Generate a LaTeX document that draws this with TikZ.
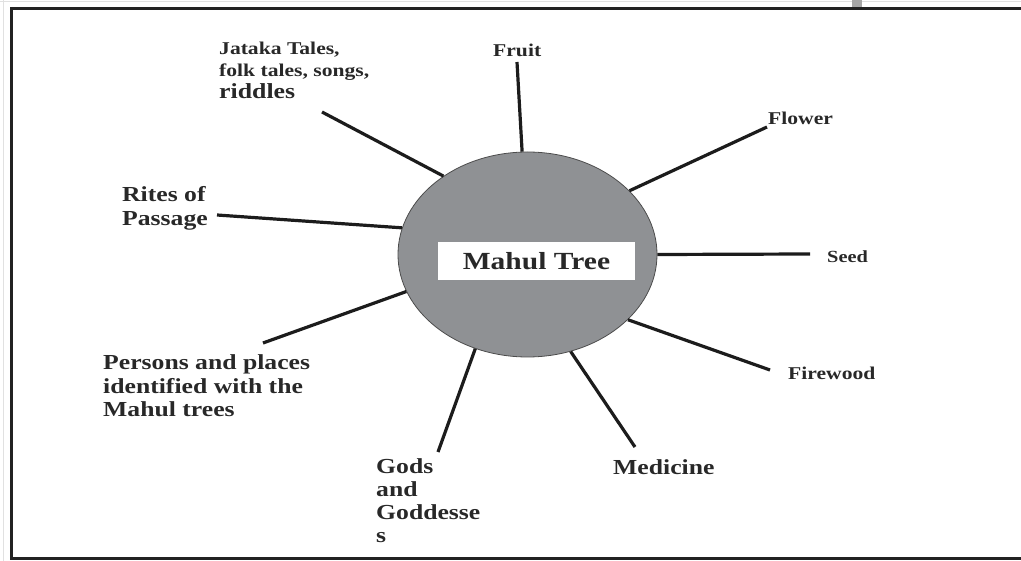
\documentclass[tikz,border=0pt]{standalone}
\usepackage{fontspec}
\newfontfamily\lab{Liberation Serif}[FakeStretch=1.2]
\usetikzlibrary{shapes.geometric}
\definecolor{framec}{RGB}{34,34,34}
\definecolor{linec}{RGB}{28,28,28}
\definecolor{txt}{RGB}{40,40,40}
\definecolor{treefill}{RGB}{143,145,148}
\definecolor{pageedge}{RGB}{225,225,225}
\tikzset{
  spoke/.style={line width=3.2pt, draw=linec},
  lbl/.style={anchor=base west, inner sep=0pt, text=txt, font=\lab\bfseries},
  framepart/.style={line width=3pt, draw=framec},
}
\newcommand{\lsmall}{\fontsize{18}{22}\selectfont}
\newcommand{\lbig}{\fontsize{21.4}{23.3}\selectfont}
\begin{document}
\begin{tikzpicture}[x=1pt,y=-1pt]
\useasboundingbox (0,0) rectangle (1021,561);
% page edges and frame
\draw[pageedge, line width=1pt] (0,2) -- (1021,2);
\draw[pageedge, line width=1pt] (3,0) -- (3,561);
\fill[gray!70] (852,0) rectangle (862,7);
\draw[framepart] (10,8.5) -- (1021,8.5);
\draw[framepart] (11.5,7) -- (11.5,559);
\draw[framepart] (10,558) -- (1021,558);
% centre
\node[ellipse, draw=black!70, line width=0.8pt, fill=treefill, minimum width=259pt, minimum height=205pt, inner sep=0pt] (tree) at (527.5,254.5) {};
\node[fill=white, minimum width=197pt, minimum height=38pt, inner sep=0pt, text=txt, font=\lab\bfseries\fontsize{24.6}{28}\selectfont] (title) at (536.5,261) {Mahul Tree};
% spoke ends
\coordinate (eJataka) at (322,112);
\coordinate (eFruit) at (517,62);
\coordinate (eFlower) at (767,127);
\coordinate (eRites) at (217,215);
\coordinate (eSeed) at (810,254);
\coordinate (ePersons) at (263,343);
\coordinate (eFirewood) at (770,370);
\coordinate (eGods) at (438,452);
\coordinate (eMedicine) at (635,447);
% spokes
\draw[spoke] (tree.137.1) -- (eJataka);
\draw[spoke] (tree.93.1) -- (eFruit);
\draw[spoke] (tree.32.7) -- (eFlower);
\draw[spoke] (tree.168.4) -- (eRites);
\draw[spoke] (tree.0.7) -- (eSeed);
\draw[spoke] (tree.197.7) -- (ePersons);
\draw[spoke] (tree.-33.1) -- (eFirewood);
\draw[spoke] (tree.241.9) -- (eGods);
\draw[spoke] (tree.-66.7) -- (eMedicine);
% labels
\node[lbl] (jataka) at (219,55) {\lsmall\begin{tabular}[t]{@{}l@{}}Jataka Tales,\\folk tales, songs,\\{\fontsize{21.5}{22}\selectfont riddles}\end{tabular}};
\node[lbl] (fruit) at (493,57) {\lsmall Fruit};
\node[lbl] (flower) at (768,125) {\lsmall Flower};
\node[lbl] (rites) at (122,202) {\lbig\begin{tabular}[t]{@{}l@{}}Rites of\\Passage\end{tabular}};
\node[lbl] (seed) at (827,263) {\fontsize{17}{20}\selectfont Seed};
\node[lbl] (persons) at (103,370) {\lbig\begin{tabular}[t]{@{}l@{}}Persons and places\\identified with the\\Mahul trees\end{tabular}};
\node[lbl] (firewood) at (788,380) {\lsmall Firewood};
\node[lbl] (gods) at (376,473) {\lbig\begin{tabular}[t]{@{}l@{}}Gods\\and\\Goddesse\\s\end{tabular}};
\node[lbl] (medicine) at (613,475) {\lbig Medicine};
\end{tikzpicture}
\end{document}
